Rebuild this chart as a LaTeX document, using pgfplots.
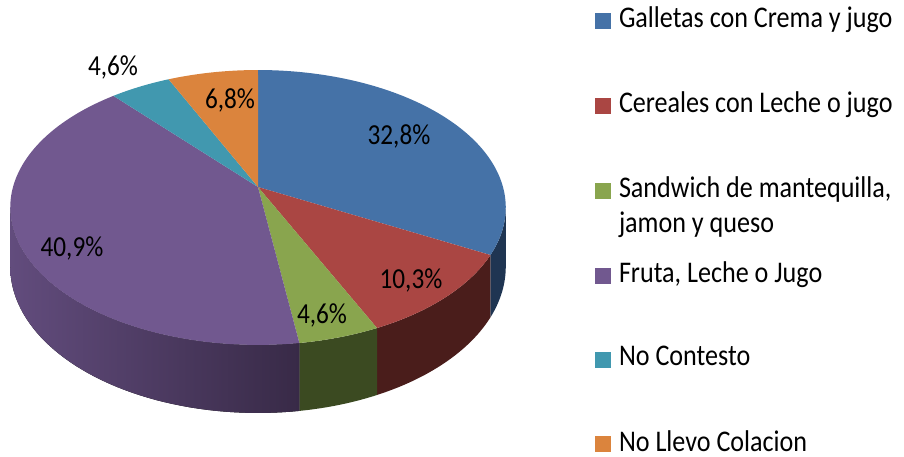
\documentclass[border=0pt]{standalone}
\usepackage{pgfplots}
\usepackage{pgfplotstable}
\pgfplotsset{compat=1.18}
\usepgfplotslibrary{fillbetween}
\usepackage{fontspec}
\setmainfont{Carlito}[FakeStretch=0.87]

\definecolor{cA}{HTML}{4572A7}
\definecolor{cB}{HTML}{AA4643}
\definecolor{cC}{HTML}{89A54E}
\definecolor{cD}{HTML}{71588F}
\definecolor{cE}{HTML}{4198AF}
\definecolor{cF}{HTML}{DB843D}
\definecolor{sA}{HTML}{1F3552}
\definecolor{sB}{HTML}{4A1D1B}
\definecolor{sC}{HTML}{3B4A21}
\definecolor{sDl}{HTML}{624C7D}
\definecolor{sDr}{HTML}{382A47}

\pgfplotstableread{
idx value
0 32.8
1 10.3
2 4.6
3 40.9
4 4.6
5 6.8
}\piedata

\pgfplotstablegetelem{0}{value}\of\piedata \let\vA\pgfplotsretval
\pgfplotstablegetelem{1}{value}\of\piedata \let\vB\pgfplotsretval
\pgfplotstablegetelem{2}{value}\of\piedata \let\vC\pgfplotsretval
\pgfplotstablegetelem{3}{value}\of\piedata \let\vD\pgfplotsretval
\pgfplotstablegetelem{4}{value}\of\piedata \let\vE\pgfplotsretval
\pgfplotstablegetelem{5}{value}\of\piedata \let\vF\pgfplotsretval

\pgfmathsetmacro\aA{0}
\pgfmathsetmacro\aB{\aA+3.6*\vA}
\pgfmathsetmacro\aC{\aB+3.6*\vB}
\pgfmathsetmacro\aD{\aC+3.6*\vC}
\pgfmathsetmacro\aE{\aD+3.6*\vD}
\pgfmathsetmacro\aF{\aE+3.6*\vE}
\pgfmathsetmacro\aG{\aF+3.6*\vF}

% geometry (pixel units)
\def\cx{258}
\def\cy{187}
\def\RA{245}
\def\RB{134.4}
\def\kk{0.149}
\def\DD{57.9}
\pgfmathsetmacro\tR{acos(-\kk)}
\pgfmathsetmacro\tL{360-\tR}

\newcommand\topslice[3]{%
  \addplot[fill=#1, draw=none, forget plot, domain=#2:#3, samples=90, variable=\t]
    ({\cx+\RA*sin(\t)/(1+\kk*cos(\t))},{\cy-\RB*cos(\t)/(1+\kk*cos(\t))})
    -- (axis cs:\cx,\cy) -- cycle;
}
\newcommand\sidestrip[4]{%
  \addplot[draw=none, forget plot, name path=#1t, domain=#2:#3, samples=50, variable=\t]
    ({\cx+\RA*sin(\t)/(1+\kk*cos(\t))},{\cy-\RB*cos(\t)/(1+\kk*cos(\t))});
  \addplot[draw=none, forget plot, name path=#1b, domain=#2:#3, samples=50, variable=\t]
    ({\cx+\RA*sin(\t)/(1+\kk*cos(\t))},{\cy-\RB*cos(\t)/(1+\kk*cos(\t))+\DD/(1+\kk*cos(\t))});
  \addplot[#4, draw=none, forget plot] fill between[of=#1t and #1b];
}

\begin{document}
\begin{tikzpicture}
\begin{axis}[
  hide axis, scale only axis,
  width=904pt, height=457pt,
  xmin=0, xmax=904, ymin=0, ymax=457,
  y dir=reverse, clip=false,
  legend image code/.code={\fill[#1] (0pt,-11pt) rectangle (16pt,5pt);},
  legend style={
    at={(axis cs:595,7)}, anchor=north west,
    draw=none, fill=none, inner sep=0pt, outer sep=0pt,
    font=\fontsize{30}{32}\selectfont,
    row sep=62.5pt,
    nodes={inner sep=0pt},
    /tikz/every odd column/.append style={column sep=8pt},
  },
  legend cell align=left,
]
% sides
\sidestrip{sa}{\tR}{\aB}{fill=sA}
\sidestrip{sb}{\aB}{\aC}{fill=sB}
\sidestrip{sc}{\aC}{\aD}{fill=sC}
\sidestrip{sd}{\aD}{\tL}{left color=sDl, right color=sDr}
% top face
\topslice{cA}{\aA}{\aB}
\topslice{cB}{\aB}{\aC}
\topslice{cC}{\aC}{\aD}
\topslice{cD}{\aD}{\aE}
\topslice{cE}{\aE}{\aF}
\topslice{cF}{\aF}{\aG}

% data labels
\begin{scope}[every node/.style={font=\fontsize{29}{32}\selectfont, inner sep=0pt}]
\node at (axis cs:399,136) {32,8\%};
\node at (axis cs:411,280) {10,3\%};
\node at (axis cs:322,315) {4,6\%};
\node at (axis cs:72,248) {40,9\%};
\node at (axis cs:113,67) {4,6\%};
\node at (axis cs:230,100) {6,8\%};
\end{scope}

\addlegendimage{fill=cA, draw=none}
\addlegendentry{Galletas con Crema y jugo}
\addlegendimage{fill=cB, draw=none}
\addlegendentry{Cereales con Leche o jugo}
\addlegendimage{fill=cC, draw=none}
\addlegendentry{\rlap{\raisebox{-35pt}[0pt][0pt]{jamon y queso}}Sandwich de mantequilla,}
\addlegendimage{fill=cD, draw=none}
\addlegendentry{Fruta, Leche o Jugo}
\addlegendimage{fill=cE, draw=none}
\addlegendentry{No Contesto}
\addlegendimage{fill=cF, draw=none}
\addlegendentry{No Llevo Colacion}
\end{axis}
\pgfresetboundingbox
\path (current axis.south west) rectangle (current axis.north east);
\end{tikzpicture}
\end{document}
